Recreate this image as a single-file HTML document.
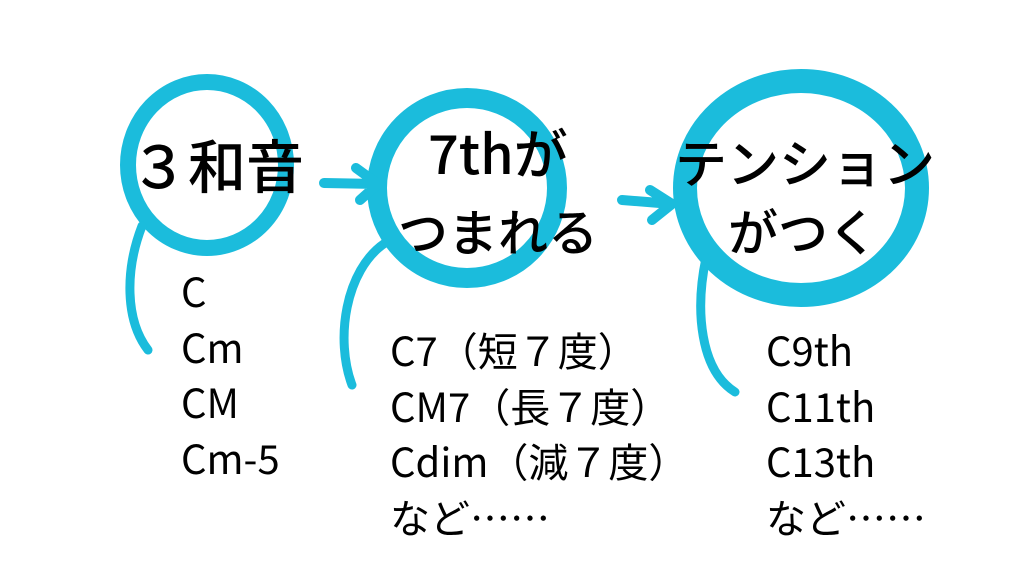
<!DOCTYPE html>
<html><head><meta charset="utf-8"><style>
body{margin:0;width:1024px;height:576px;background:#fff;overflow:hidden;position:relative;font-family:"Liberation Sans","Noto Sans CJK JP",sans-serif;color:#000}
svg{position:absolute;left:0;top:0}
.t{position:absolute;white-space:nowrap;line-height:1;font-family:'Noto Sans CJK JP',sans-serif;font-weight:500}
.l{position:absolute;white-space:nowrap;font-size:40px;line-height:55.5px;font-family:"Noto Sans CJK JP",sans-serif}
</style></head><body>
<svg width="1024" height="576" fill="none" stroke="#1bbcdc" stroke-linecap="round">
<ellipse cx="207" cy="165" rx="79" ry="83" stroke-width="16"/>
<circle cx="467" cy="188" r="90" stroke-width="20"/>
<ellipse cx="801" cy="188" rx="116" ry="107" stroke-width="24"/>
<path d="M324 183 L378 184 M356 168 L378 184 L360 200" stroke-width="10"/>
<path d="M622 200 L672 204 M650 190 L672 204 L652 220" stroke-width="10"/>
<path d="M142 226 C125 270 125 320 148 350" stroke-width="9"/>
<path d="M385 243 C345 270 335 340 352 385" stroke-width="9"/>
<path d="M706 258 C695 310 700 370 735 392" stroke-width="9"/>
</svg>
<div class="t" style="left:130px;top:134px;font-size:58px">３和音</div>
<div class="t" style="left:428px;top:124px;font-size:54px">7thが</div>
<div class="t" style="left:398px;top:205px;font-size:50px">つまれる</div>
<div class="t" style="left:675px;top:135px;font-size:52px">テンション</div>
<div class="t" style="left:728px;top:205px;font-size:50px">がつく</div>
<div class="l" style="left:181px;top:263px">C<br>Cm<br>CM<br>Cm-5</div>
<div class="l" style="left:390px;top:322px">C7（短７度）<br>CM7（長７度）<br>Cdim（減７度）<br>など……</div>
<div class="l" style="left:766px;top:322px">C9th<br>C11th<br>C13th<br>など……</div>
</body></html>
